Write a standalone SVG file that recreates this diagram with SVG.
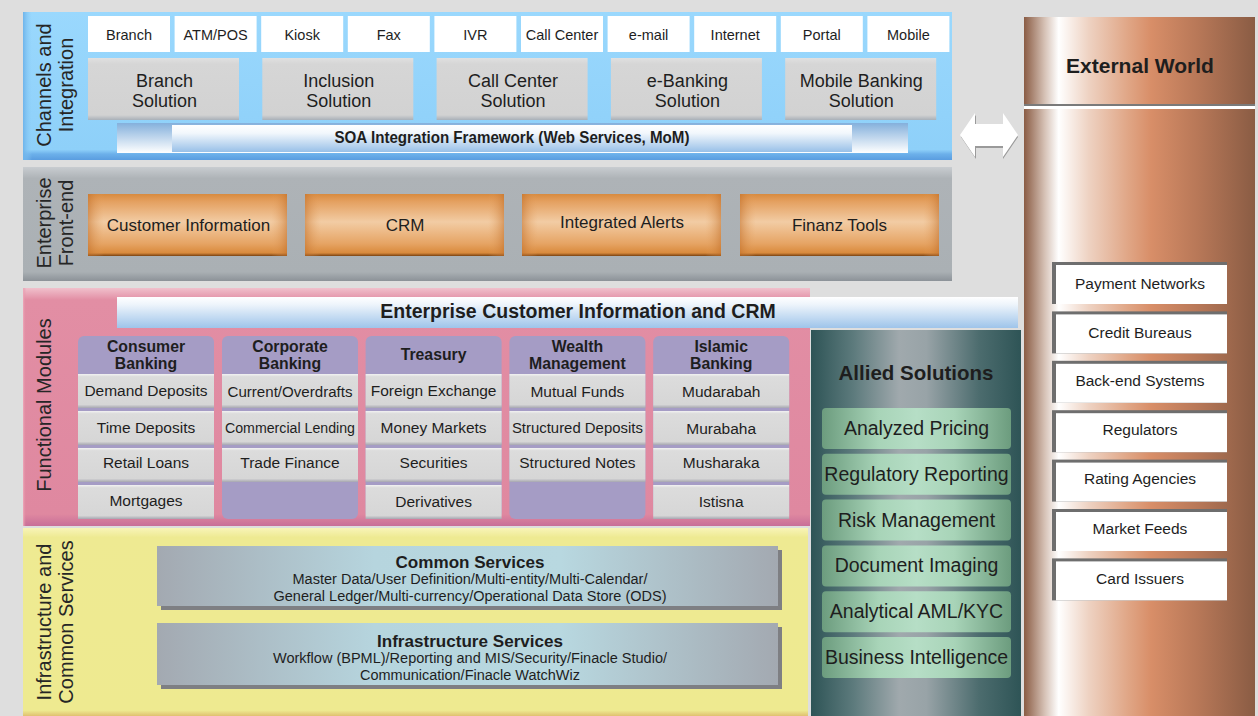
<svg xmlns="http://www.w3.org/2000/svg" width="1258" height="716" viewBox="0 0 1258 716">
<defs>
<style>
text{font-family:"Liberation Sans",Arial,sans-serif;fill:#1e1e1e;}
.side{font-size:20px;fill:#262626;}
.ch{font-size:14.5px;text-anchor:middle;}
.sol{font-size:18px;text-anchor:middle;}
.or{font-size:17px;text-anchor:middle;}
.mh{font-size:15.8px;font-weight:bold;text-anchor:middle;}
.mi{font-size:15.5px;text-anchor:middle;}
.al{font-size:19.5px;text-anchor:middle;}
.ex{font-size:15.5px;text-anchor:middle;}
.svt{font-size:17px;font-weight:bold;text-anchor:middle;}
.svl{font-size:14px;text-anchor:middle;}
.chbox{fill:#fff;}
.solbox{fill:url(#gSol);}
.orbox{fill:url(#gOrange);}
.orov{fill:url(#gOrangeH);}
.col{fill:#a59cc5;}
.item{fill:url(#gItem);}
.grn{fill:url(#gGreen);}
</style>
<linearGradient id="gBlue" x1="0" y1="0" x2="0" y2="1">
<stop offset="0" stop-color="#9ad8fd"/><stop offset="0.93" stop-color="#8ed0f9"/><stop offset="0.96" stop-color="#6cb0ea"/><stop offset="1" stop-color="#5a9de0"/>
</linearGradient>
<linearGradient id="gBlueL" x1="0" y1="0" x2="1" y2="0">
<stop offset="0" stop-color="#6fb4ea"/><stop offset="0.15" stop-color="#8ccdf7" stop-opacity="0"/><stop offset="1" stop-color="#8ccdf7" stop-opacity="0"/>
</linearGradient>
<linearGradient id="gSoaOuter" x1="0" y1="0" x2="0" y2="1">
<stop offset="0" stop-color="#84b0dc"/><stop offset="1" stop-color="#ffffff"/>
</linearGradient>
<linearGradient id="gSoaInner" x1="0" y1="0" x2="0" y2="1">
<stop offset="0" stop-color="#ffffff"/><stop offset="0.3" stop-color="#f2f7fc"/><stop offset="1" stop-color="#98c0e8"/>
</linearGradient>
<linearGradient id="gSol" x1="0" y1="0" x2="0" y2="1">
<stop offset="0" stop-color="#e0e0e0"/><stop offset="0.1" stop-color="#d6d6d6"/><stop offset="0.92" stop-color="#d2d2d2"/><stop offset="1" stop-color="#a9b0b8"/>
</linearGradient>
<linearGradient id="gGrayPanel" x1="0" y1="0" x2="0" y2="1">
<stop offset="0" stop-color="#c8ccd0"/><stop offset="0.1" stop-color="#aeb3b7"/><stop offset="0.92" stop-color="#aab0b4"/><stop offset="1" stop-color="#8c9298"/>
</linearGradient>
<linearGradient id="gOrange" x1="0" y1="0" x2="0" y2="1">
<stop offset="0" stop-color="#d88a3e"/><stop offset="0.12" stop-color="#e4a060"/><stop offset="0.45" stop-color="#f2cca4"/><stop offset="0.8" stop-color="#e6a464"/><stop offset="0.95" stop-color="#d98a3c"/><stop offset="1" stop-color="#7a4210"/>
</linearGradient>
<linearGradient id="gOrangeH" x1="0" y1="0" x2="1" y2="0">
<stop offset="0" stop-color="#c2702a" stop-opacity="0.55"/><stop offset="0.08" stop-color="#e6a464" stop-opacity="0"/><stop offset="0.92" stop-color="#e6a464" stop-opacity="0"/><stop offset="1" stop-color="#c2702a" stop-opacity="0.55"/>
</linearGradient>
<linearGradient id="gPink" x1="0" y1="0" x2="0" y2="1">
<stop offset="0" stop-color="#f0c0cc"/><stop offset="0.05" stop-color="#e28ea4"/><stop offset="0.95" stop-color="#df88a0"/><stop offset="1" stop-color="#c86e98"/>
</linearGradient>
<linearGradient id="gPinkL" x1="0" y1="0" x2="1" y2="0">
<stop offset="0" stop-color="#eeaabb"/><stop offset="0.05" stop-color="#e28ea4" stop-opacity="0"/><stop offset="1" stop-color="#e28ea4" stop-opacity="0"/>
</linearGradient>
<linearGradient id="gECIC" x1="0" y1="0" x2="0" y2="1">
<stop offset="0" stop-color="#ffffff"/><stop offset="0.25" stop-color="#edf4fb"/><stop offset="1" stop-color="#9ec4ea"/>
</linearGradient>
<linearGradient id="gItem" x1="0" y1="0" x2="0" y2="1">
<stop offset="0" stop-color="#f2f2f2"/><stop offset="0.08" stop-color="#dcdcdc"/><stop offset="0.9" stop-color="#d6d6d6"/><stop offset="1" stop-color="#a6a6b0"/>
</linearGradient>
<linearGradient id="gYellow" x1="0" y1="0" x2="0" y2="1">
<stop offset="0" stop-color="#f8f4b8"/><stop offset="0.05" stop-color="#eeea92"/><stop offset="0.97" stop-color="#eeea90"/><stop offset="1" stop-color="#e0c070"/>
</linearGradient>
<linearGradient id="gSvc" x1="0" y1="0" x2="1" y2="0">
<stop offset="0" stop-color="#a3a9b1"/><stop offset="0.35" stop-color="#b6d5de"/><stop offset="0.65" stop-color="#b8d8e0"/><stop offset="1" stop-color="#a3a9b1"/>
</linearGradient>
<linearGradient id="gAllied" x1="0" y1="0" x2="1" y2="0">
<stop offset="0" stop-color="#2e5456"/><stop offset="0.2" stop-color="#5c7a7c"/><stop offset="0.42" stop-color="#a0a9ad"/><stop offset="0.55" stop-color="#98a3a7"/><stop offset="0.8" stop-color="#4c6c6e"/><stop offset="1" stop-color="#2e5456"/>
</linearGradient>
<linearGradient id="gGreen" x1="0" y1="0" x2="1" y2="0">
<stop offset="0" stop-color="#6c9c7e"/><stop offset="0.3" stop-color="#a8d4b8"/><stop offset="0.5" stop-color="#b6dec6"/><stop offset="0.7" stop-color="#a8d4b8"/><stop offset="1" stop-color="#6c9c7e"/>
</linearGradient>
<linearGradient id="gExt" x1="0" y1="0" x2="1" y2="0">
<stop offset="0" stop-color="#8a5c44"/><stop offset="0.09" stop-color="#d6c2b6"/><stop offset="0.15" stop-color="#ffffff"/><stop offset="0.28" stop-color="#eed2c2"/><stop offset="0.45" stop-color="#e0a686"/><stop offset="0.55" stop-color="#d88e68"/><stop offset="0.75" stop-color="#b87858"/><stop offset="1" stop-color="#8a5c44"/>
</linearGradient>
</defs>

<rect x="0" y="0" width="1258" height="716" fill="#dedede"/>

<!-- Channels and Integration -->
<g id="channels-panel">
<rect x="23" y="12" width="929" height="148" fill="url(#gBlue)"/>
<rect x="23" y="12" width="60" height="148" fill="url(#gBlueL)"/>
<text class="side" transform="translate(51,85) rotate(-90)" text-anchor="middle">Channels and</text>
<text class="side" transform="translate(73,85) rotate(-90)" text-anchor="middle">Integration</text>
</g>
<g id="ch-branch"><rect class="chbox" x="88" y="16" width="82" height="36"/><text class="ch" x="129" y="40">Branch</text></g>
<g id="ch-atm"><rect class="chbox" x="174.6" y="16" width="82" height="36"/><text class="ch" x="215.6" y="40">ATM/POS</text></g>
<g id="ch-kiosk"><rect class="chbox" x="261.2" y="16" width="82" height="36"/><text class="ch" x="302.2" y="40">Kiosk</text></g>
<g id="ch-fax"><rect class="chbox" x="347.8" y="16" width="82" height="36"/><text class="ch" x="388.8" y="40">Fax</text></g>
<g id="ch-ivr"><rect class="chbox" x="434.4" y="16" width="82" height="36"/><text class="ch" x="475.4" y="40">IVR</text></g>
<g id="ch-callcenter"><rect class="chbox" x="521" y="16" width="82" height="36"/><text class="ch" x="562" y="40">Call Center</text></g>
<g id="ch-email"><rect class="chbox" x="607.6" y="16" width="82" height="36"/><text class="ch" x="648.6" y="40">e-mail</text></g>
<g id="ch-internet"><rect class="chbox" x="694.2" y="16" width="82" height="36"/><text class="ch" x="735.2" y="40">Internet</text></g>
<g id="ch-portal"><rect class="chbox" x="780.8" y="16" width="82" height="36"/><text class="ch" x="821.8" y="40">Portal</text></g>
<g id="ch-mobile"><rect class="chbox" x="867.4" y="16" width="82" height="36"/><text class="ch" x="908.4" y="40">Mobile</text></g>

<g id="sol-branch"><rect class="solbox" x="88" y="58" width="151" height="62"/><text class="sol" x="164.5" y="86.5">Branch</text><text class="sol" x="164.5" y="106.5">Solution</text></g>
<g id="sol-inclusion"><rect class="solbox" x="262.3" y="58" width="151" height="62"/><text class="sol" x="338.8" y="86.5">Inclusion</text><text class="sol" x="338.8" y="106.5">Solution</text></g>
<g id="sol-callcenter"><rect class="solbox" x="436.6" y="58" width="151" height="62"/><text class="sol" x="513.1" y="86.5">Call Center</text><text class="sol" x="513.1" y="106.5">Solution</text></g>
<g id="sol-ebanking"><rect class="solbox" x="610.9" y="58" width="151" height="62"/><text class="sol" x="687.4" y="86.5">e-Banking</text><text class="sol" x="687.4" y="106.5">Solution</text></g>
<g id="sol-mobile"><rect class="solbox" x="785.2" y="58" width="151" height="62"/><text class="sol" x="861.2" y="86.5">Mobile Banking</text><text class="sol" x="861.2" y="106.5">Solution</text></g>

<g id="soa">
<rect x="117" y="123" width="791" height="30" fill="url(#gSoaOuter)"/>
<rect x="172" y="125" width="680" height="27" fill="url(#gSoaInner)"/>
<text x="512" y="143" font-size="17" font-weight="bold" text-anchor="middle" textLength="355" lengthAdjust="spacingAndGlyphs">SOA Integration Framework (Web Services, MoM)</text>
</g>

<!-- Enterprise Front-end -->
<g id="frontend-panel">
<rect x="23" y="167" width="929" height="114" fill="url(#gGrayPanel)"/>
<text class="side" transform="translate(51,223) rotate(-90)" text-anchor="middle">Enterprise</text>
<text class="side" transform="translate(73,223) rotate(-90)" text-anchor="middle">Front-end</text>
</g>
<g id="fe-custinfo"><rect class="orbox" x="88" y="194" width="199" height="62"/><rect class="orov" x="88" y="194" width="199" height="62"/><text class="or" x="188.5" y="231">Customer Information</text></g>
<g id="fe-crm"><rect class="orbox" x="305" y="194" width="199" height="62"/><rect class="orov" x="305" y="194" width="199" height="62"/><text class="or" x="405" y="231">CRM</text></g>
<g id="fe-alerts"><rect class="orbox" x="522" y="194" width="199" height="62"/><rect class="orov" x="522" y="194" width="199" height="62"/><text class="or" x="622" y="228">Integrated Alerts</text></g>
<g id="fe-finanz"><rect class="orbox" x="740" y="194" width="199" height="62"/><rect class="orov" x="740" y="194" width="199" height="62"/><text class="or" x="839.5" y="231">Finanz Tools</text></g>

<!-- Functional Modules -->
<g id="functional-panel">
<rect x="23" y="288" width="787" height="238" fill="url(#gPink)"/>
<rect x="23" y="288" width="60" height="238" fill="url(#gPinkL)"/>
<text class="side" transform="translate(51,405) rotate(-90)" text-anchor="middle">Functional Modules</text>
</g>
<g id="ecic">
<rect x="117" y="297" width="901" height="31" fill="url(#gECIC)"/>
<text x="578" y="318" font-size="19.5" font-weight="bold" text-anchor="middle">Enterprise Customer Information and CRM</text>
</g>

<g id="mod-consumer">
<rect class="col" x="78" y="336" width="136" height="183" rx="6"/>
<text class="mh" x="146" y="351.5">Consumer</text><text class="mh" x="146" y="368.5">Banking</text>
<rect class="item" x="78" y="374" width="136" height="34"/><text class="mi" x="146" y="396">Demand Deposits</text>
<rect class="item" x="78" y="411" width="136" height="34"/><text class="mi" x="146" y="433">Time Deposits</text>
<rect class="item" x="78" y="448" width="136" height="34"/><text class="mi" x="146" y="468">Retail Loans</text>
<rect class="item" x="78" y="485" width="136" height="34"/><text class="mi" x="146" y="506">Mortgages</text>
</g>
<g id="mod-corporate">
<rect class="col" x="222" y="336" width="136" height="183" rx="6"/>
<text class="mh" x="290" y="351.5">Corporate</text><text class="mh" x="290" y="368.5">Banking</text>
<rect class="item" x="222" y="374" width="136" height="34"/><text class="mi" x="290" y="397" textLength="125" lengthAdjust="spacingAndGlyphs">Current/Overdrafts</text>
<rect class="item" x="222" y="411" width="136" height="34"/><text class="mi" x="290" y="433" textLength="130" lengthAdjust="spacingAndGlyphs">Commercial Lending</text>
<rect class="item" x="222" y="448" width="136" height="34"/><text class="mi" x="290" y="468">Trade Finance</text>
</g>
<g id="mod-treasury">
<rect class="col" x="365.6" y="336" width="136" height="183" rx="6"/>
<text class="mh" x="433.6" y="359.5">Treasury</text>
<rect class="item" x="365.6" y="374" width="136" height="34"/><text class="mi" x="433.6" y="396">Foreign Exchange</text>
<rect class="item" x="365.6" y="411" width="136" height="34"/><text class="mi" x="433.6" y="433">Money Markets</text>
<rect class="item" x="365.6" y="448" width="136" height="34"/><text class="mi" x="433.6" y="468">Securities</text>
<rect class="item" x="365.6" y="485" width="136" height="34"/><text class="mi" x="433.6" y="507">Derivatives</text>
</g>
<g id="mod-wealth">
<rect class="col" x="509.4" y="336" width="136" height="183" rx="6"/>
<text class="mh" x="577.4" y="351.5">Wealth</text><text class="mh" x="577.4" y="368.5">Management</text>
<rect class="item" x="509.4" y="374" width="136" height="34"/><text class="mi" x="577.4" y="397">Mutual Funds</text>
<rect class="item" x="509.4" y="411" width="136" height="34"/><text class="mi" x="577.4" y="433" textLength="131" lengthAdjust="spacingAndGlyphs">Structured Deposits</text>
<rect class="item" x="509.4" y="448" width="136" height="34"/><text class="mi" x="577.4" y="468">Structured Notes</text>
</g>
<g id="mod-islamic">
<rect class="col" x="653.2" y="336" width="136" height="183" rx="6"/>
<text class="mh" x="721.2" y="351.5">Islamic</text><text class="mh" x="721.2" y="368.5">Banking</text>
<rect class="item" x="653.2" y="374" width="136" height="34"/><text class="mi" x="721.2" y="397">Mudarabah</text>
<rect class="item" x="653.2" y="411" width="136" height="34"/><text class="mi" x="721.2" y="434">Murabaha</text>
<rect class="item" x="653.2" y="448" width="136" height="34"/><text class="mi" x="721.2" y="468">Musharaka</text>
<rect class="item" x="653.2" y="485" width="136" height="34"/><text class="mi" x="721.2" y="507">Istisna</text>
</g>

<!-- Infrastructure and Common Services -->
<g id="infra-panel">
<rect x="23" y="528" width="785" height="188" fill="url(#gYellow)"/>
<text class="side" transform="translate(51,622) rotate(-90)" text-anchor="middle">Infrastructure and</text>
<text class="side" transform="translate(73,622) rotate(-90)" text-anchor="middle">Common Services</text>
</g>
<g id="common-services">
<rect x="161" y="550" width="621" height="60" fill="#7e7f83"/>
<rect x="157" y="546" width="621" height="60" fill="url(#gSvc)"/>
<text class="svt" x="470" y="568" textLength="149" lengthAdjust="spacingAndGlyphs">Common Services</text>
<text class="svl" x="470" y="584" textLength="355" lengthAdjust="spacingAndGlyphs">Master Data/User Definition/Multi-entity/Multi-Calendar/</text>
<text class="svl" x="470" y="601" textLength="393" lengthAdjust="spacingAndGlyphs">General Ledger/Multi-currency/Operational Data Store (ODS)</text>
</g>
<g id="infrastructure-services">
<rect x="161" y="627" width="621" height="62" fill="#7e7f83"/>
<rect x="157" y="623" width="621" height="62" fill="url(#gSvc)"/>
<text class="svt" x="470" y="647" textLength="186" lengthAdjust="spacingAndGlyphs">Infrastructure Services</text>
<text class="svl" x="470" y="663" textLength="394" lengthAdjust="spacingAndGlyphs">Workflow (BPML)/Reporting and MIS/Security/Finacle Studio/</text>
<text class="svl" x="470" y="680" textLength="220" lengthAdjust="spacingAndGlyphs">Communication/Finacle WatchWiz</text>
</g>

<!-- Allied Solutions -->
<g id="allied-panel">
<rect x="811" y="330" width="210" height="386" fill="url(#gAllied)"/>
<text x="916" y="380" font-size="20.5" font-weight="bold" text-anchor="middle">Allied Solutions</text>
</g>
<g id="al-pricing"><rect class="grn" x="822" y="408" width="189" height="41" rx="4"/><text class="al" x="916.5" y="435">Analyzed Pricing</text></g>
<g id="al-regrep"><rect class="grn" x="822" y="453.8" width="189" height="41" rx="4"/><text class="al" x="916.5" y="480.8">Regulatory Reporting</text></g>
<g id="al-risk"><rect class="grn" x="822" y="499.6" width="189" height="41" rx="4"/><text class="al" x="916.5" y="526.6">Risk Management</text></g>
<g id="al-docimg"><rect class="grn" x="822" y="545.4" width="189" height="41" rx="4"/><text class="al" x="916.5" y="572.4">Document Imaging</text></g>
<g id="al-aml"><rect class="grn" x="822" y="591.2" width="189" height="41" rx="4"/><text class="al" x="916.5" y="618.2">Analytical AML/KYC</text></g>
<g id="al-bi"><rect class="grn" x="822" y="637" width="189" height="41" rx="4"/><text class="al" x="916.5" y="664">Business Intelligence</text></g>

<!-- External World -->
<g id="external-panel">
<rect x="1024" y="17" width="231" height="699" fill="url(#gExt)"/>
<rect x="1024" y="104" width="231" height="2" fill="#7a7a7a"/>
<rect x="1024" y="106" width="231" height="3" fill="#ffffff"/>
<text x="1140" y="73" font-size="21" font-weight="bold" text-anchor="middle">External World</text>
</g>
<g id="ex-payment"><rect x="1052" y="262" width="175" height="42" fill="#6e6e6e"/><rect x="1056" y="265" width="171" height="39" fill="#fff"/><text class="ex" x="1140" y="289">Payment Networks</text></g>
<g id="ex-credit"><rect x="1052" y="311.4" width="175" height="42" fill="#6e6e6e"/><rect x="1056" y="314.4" width="171" height="39" fill="#fff"/><text class="ex" x="1140" y="338">Credit Bureaus</text></g>
<g id="ex-backend"><rect x="1052" y="360.8" width="175" height="42" fill="#6e6e6e"/><rect x="1056" y="363.8" width="171" height="39" fill="#fff"/><text class="ex" x="1140" y="386">Back-end Systems</text></g>
<g id="ex-regulators"><rect x="1052" y="410.2" width="175" height="42" fill="#6e6e6e"/><rect x="1056" y="413.2" width="171" height="39" fill="#fff"/><text class="ex" x="1140" y="435">Regulators</text></g>
<g id="ex-rating"><rect x="1052" y="459.6" width="175" height="42" fill="#6e6e6e"/><rect x="1056" y="462.6" width="171" height="39" fill="#fff"/><text class="ex" x="1140" y="484">Rating Agencies</text></g>
<g id="ex-market"><rect x="1052" y="509" width="175" height="42" fill="#6e6e6e"/><rect x="1056" y="512" width="171" height="39" fill="#fff"/><text class="ex" x="1140" y="534">Market Feeds</text></g>
<g id="ex-card"><rect x="1052" y="558.4" width="175" height="42" fill="#6e6e6e"/><rect x="1056" y="561.4" width="171" height="39" fill="#fff"/><text class="ex" x="1140" y="584">Card Issuers</text></g>

<!-- Connectors -->
<g id="connectors">
<path d="M961,137 L976,115 L976,126 L1003,126 L1003,115 L1018,137 L1003,159 L1003,148 L976,148 L976,159 Z" fill="#9a9a9a"/>
<path d="M960,135 L975,113 L975,124 L1003,124 L1003,113 L1018,135 L1003,157 L1003,146 L975,146 L975,157 Z" fill="#ffffff"/>
</g>
</svg>
